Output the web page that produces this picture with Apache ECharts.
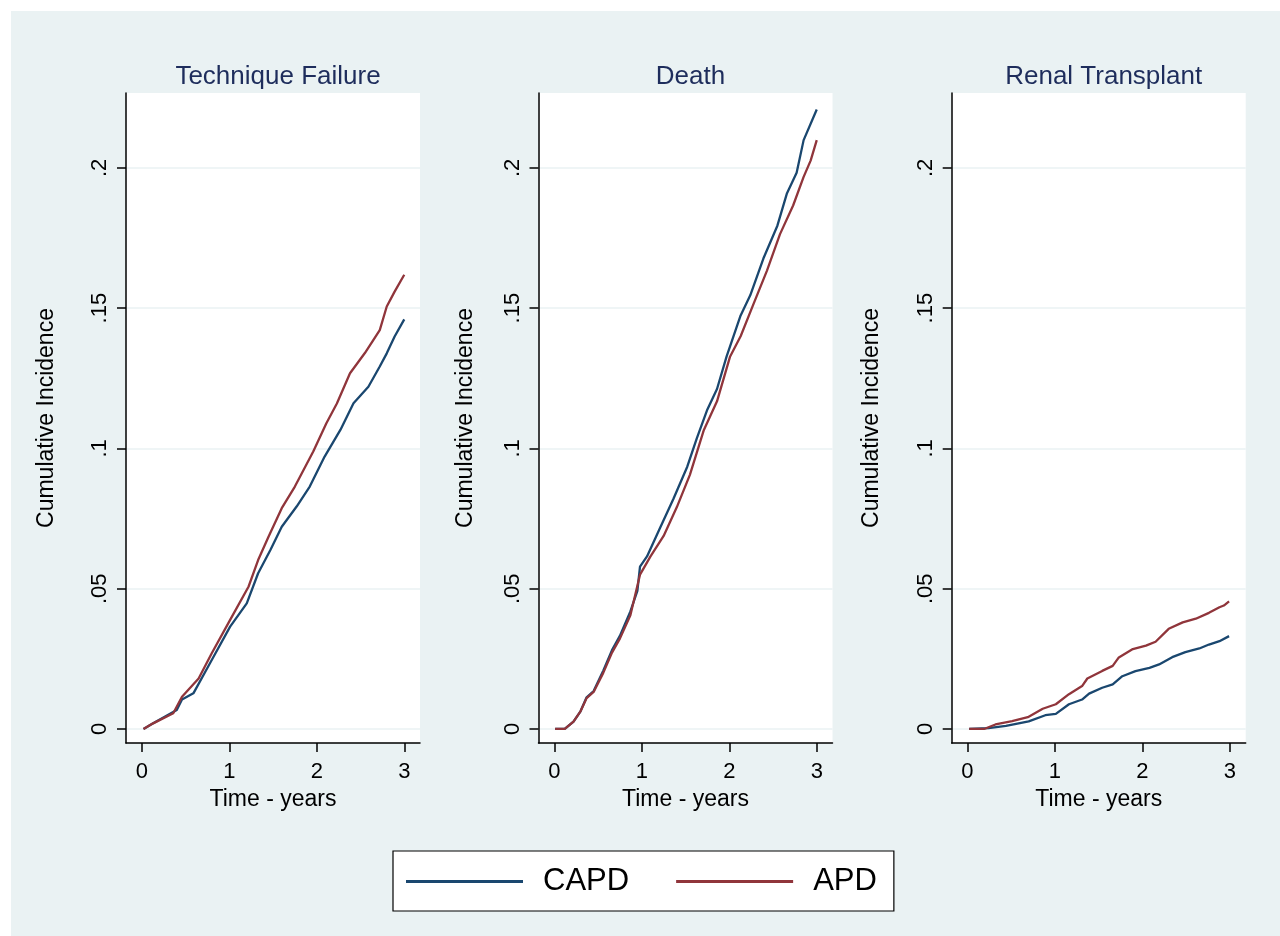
<!DOCTYPE html>
<html><head><meta charset="utf-8">
<script src="https://cdn.jsdelivr.net/npm/echarts@6/dist/echarts.min.js"></script>
<style>html,body{margin:0;padding:0;background:#fff}#c{width:1280px;height:936px}</style>
</head><body><div id="c"></div><script>
// ---- data ----
const panelTitles = ['Technique Failure', 'Death', 'Renal Transplant'];
const seriesNames = ['CAPD', 'APD'];
const xTicks = [0, 1, 2, 3];
const yTicks = [0, 0.05, 0.1, 0.15, 0.2];
const yTickLabels = ['0', '.05', '.1', '.15', '.2'];

// Technique Failure
const tfCapdT = [0.02,0.13,0.40,0.46,0.59,0.80,1.01,1.20,1.33,1.47,1.60,1.77,1.92,2.09,2.27,2.42,2.59,2.72,2.80,2.89,3.00];
const tfCapdV = [0,0.002,0.0068,0.0105,0.0127,0.0246,0.0365,0.0448,0.0555,0.0638,0.0721,0.0793,0.0864,0.0971,0.1066,0.1161,0.122,0.1292,0.1339,0.1399,0.146];
const tfApdT  = [0.02,0.13,0.36,0.46,0.65,0.80,1.01,1.22,1.33,1.45,1.60,1.75,1.96,2.11,2.23,2.38,2.55,2.72,2.80,2.89,3.00];
const tfApdV  = [0,0.002,0.0056,0.0115,0.018,0.027,0.0389,0.0507,0.0602,0.0686,0.0787,0.0864,0.0989,0.109,0.116,0.1268,0.134,0.1422,0.1506,0.1559,0.1619];

// Death
const deCapdT = [0.01,0.12,0.22,0.30,0.37,0.45,0.56,0.66,0.75,0.87,0.95,0.98,1.06,1.21,1.36,1.52,1.63,1.75,1.86,1.97,2.13,2.24,2.39,2.55,2.66,2.77,2.85,3.00];
const deCapdV = [0,0,0.0026,0.0063,0.0113,0.0135,0.0208,0.0281,0.0332,0.0419,0.0492,0.0579,0.0615,0.0717,0.0819,0.0935,0.1037,0.1139,0.1212,0.1328,0.1474,0.1546,0.1677,0.1794,0.191,0.1983,0.2099,0.2208];
const deApdT  = [0.01,0.12,0.22,0.30,0.37,0.45,0.56,0.66,0.75,0.87,0.98,1.10,1.25,1.40,1.55,1.71,1.86,2.01,2.13,2.28,2.43,2.58,2.73,2.85,2.93,3.00];
const deApdV  = [0,0,0.0026,0.0063,0.011,0.0132,0.020,0.0272,0.0322,0.0405,0.055,0.0615,0.0688,0.079,0.0906,0.1066,0.1168,0.1328,0.14,0.1517,0.1633,0.1764,0.1866,0.1968,0.2026,0.2099];

// Renal Transplant
const rtCapdT = [0.02,0.24,0.44,0.70,0.89,1.01,1.16,1.31,1.39,1.54,1.66,1.77,1.92,2.08,2.19,2.34,2.49,2.65,2.76,2.88,2.99];
const rtCapdV = [0,0.0003,0.0011,0.0027,0.0049,0.0054,0.0088,0.0105,0.0126,0.0147,0.0159,0.0188,0.0206,0.0218,0.023,0.0256,0.0274,0.0287,0.0301,0.0313,0.0331];
const rtApdT  = [0.02,0.19,0.32,0.51,0.69,0.86,1.01,1.16,1.31,1.37,1.54,1.66,1.73,1.89,2.04,2.15,2.30,2.46,2.61,2.76,2.88,2.93,2.99];
const rtApdV  = [0,0,0.0016,0.0028,0.0042,0.0072,0.0088,0.0124,0.0153,0.018,0.0207,0.0225,0.0255,0.0285,0.0297,0.0311,0.0357,0.038,0.0393,0.0414,0.0434,0.044,0.0455];

// ---- build ----
const panelData = [
  [[tfCapdT, tfCapdV], [tfApdT, tfApdV]],
  [[deCapdT, deCapdV], [deApdT, deApdV]],
  [[rtCapdT, rtCapdV], [rtApdT, rtApdV]]
];
const colors = ['#1A476F', '#90353B'];
const FONT = '"Liberation Sans", Arial, Helvetica, sans-serif';
const gridLefts = [126, 538.5, 951.7];
const yNameGaps = [68, 61, 69];
const gridW = 294, gridTop = 93, gridH = 650;
const zip = (a, b) => a.map((x, i) => [x, b[i]]);

const axisLineStyle = { color: '#000', width: 1.5 };
const grids = [], xAxes = [], yAxes = [], series = [], titles = [];
gridLefts.forEach((l, i) => {
  grids.push({ left: l, top: gridTop, width: gridW, height: gridH, show: true,
    backgroundColor: '#fff', borderWidth: 0, containLabel: false });
  titles.push({ text: panelTitles[i], left: l + gridW / 2, top: 59, textAlign: 'center',
    textStyle: { fontFamily: FONT, fontSize: 26, fontWeight: 'normal', color: '#1E2D5C' } });
  xAxes.push({ type: 'value', gridIndex: i, min: -0.18, max: 3.18,
    axisLine: { show: true, onZero: false, lineStyle: axisLineStyle },
    axisTick: { show: true, length: 9, customValues: xTicks, lineStyle: axisLineStyle },
    axisLabel: { customValues: xTicks, fontSize: 22, color: '#000', margin: 18, fontFamily: FONT },
    splitLine: { show: false },
    name: 'Time - years', nameLocation: 'middle', nameGap: 44,
    nameTextStyle: { fontSize: 23, color: '#000', fontFamily: FONT } });
  yAxes.push({ type: 'value', gridIndex: i, min: -0.005, max: 0.2267,
    axisLine: { show: true, onZero: false, lineStyle: axisLineStyle },
    axisTick: { show: true, length: 9, customValues: yTicks, lineStyle: axisLineStyle },
    axisLabel: { customValues: yTicks, rotate: 90, fontSize: 22, color: '#000', margin: 15, fontFamily: FONT,
      formatter: v => { const k = yTicks.findIndex(t => Math.abs(t - v) < 1e-9); return k >= 0 ? yTickLabels[k] : ''; } },
    splitLine: { show: true, lineStyle: { color: '#EAF2F3', width: 1.5 } },
    name: 'Cumulative Incidence', nameLocation: 'middle', nameGap: yNameGaps[i],
    nameTextStyle: { fontSize: 23, color: '#000', fontFamily: FONT } });
  panelData[i].forEach((d, s) => {
    series.push({ type: 'line', name: seriesNames[s], xAxisIndex: i, yAxisIndex: i,
      data: zip(d[0], d[1]), symbol: 'none', showSymbol: false,
      lineStyle: { width: 2.3, color: colors[s] }, itemStyle: { color: colors[s] },
      z: 2 + s });
  });
});

const chart = echarts.init(document.getElementById('c'), null, { renderer: 'canvas' });
chart.setOption({
  animation: false,
  backgroundColor: '#fff',
  textStyle: { fontFamily: FONT },
  graphic: [{ type: 'rect', z: -100, silent: true,
    shape: { x: 11, y: 11, width: 1269, height: 925 }, style: { fill: '#EAF2F3' } }],
  title: titles,
  legend: { left: 393, top: 851, orient: 'horizontal', data: seriesNames,
    icon: 'rect', itemWidth: 117, itemHeight: 3, itemGap: 47,
    padding: [15, 17, 14, 13], backgroundColor: '#fff', borderColor: '#000', borderWidth: 1.2,
    textStyle: { fontSize: 31, color: '#000', fontFamily: FONT, padding: [0, 0, 0, 15] } },
  grid: grids, xAxis: xAxes, yAxis: yAxes, series: series
});
</script></body></html>
